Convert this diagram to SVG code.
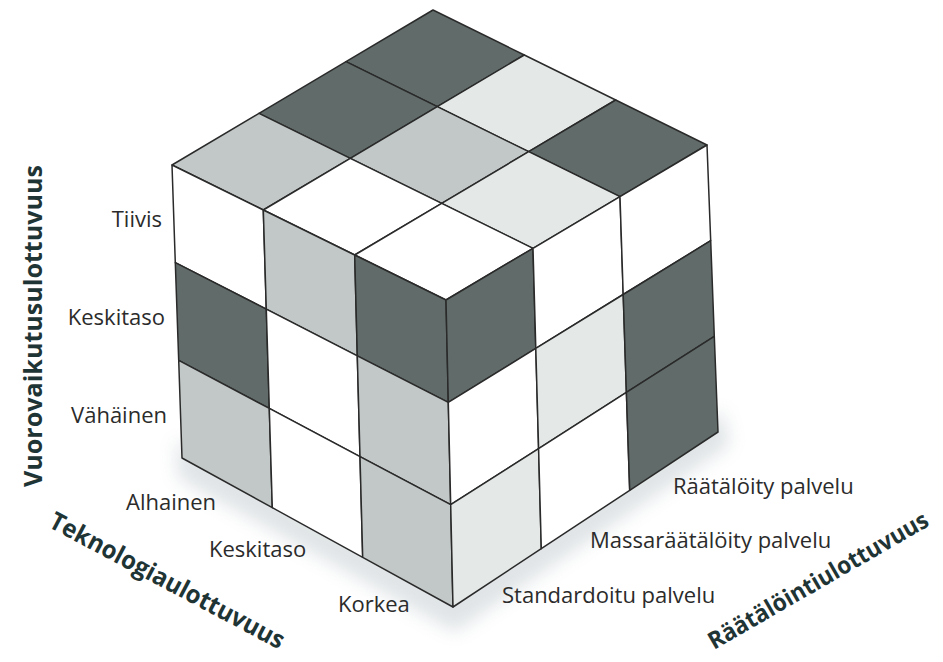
<svg xmlns="http://www.w3.org/2000/svg" width="943" height="662" viewBox="0 0 943 662">
  <defs>
    <style>
      .cell { stroke: #2a2a2a; stroke-width: 1.5; stroke-linejoin: round; }
      .dark { fill: #616c6a; }
      .light { fill: #c2c8c7; }
      .pale { fill: #e4e9e8; }
      .white { fill: #ffffff; }
      .lvl { font-family: "Open Sans", "Liberation Sans", sans-serif; font-size: 22px; fill: #2b2b2b; }
      .axis { font-family: "Open Sans", "Liberation Sans", sans-serif; font-size: 25px; font-weight: bold; fill: #1f3434; }
    </style>
    <filter id="soft" x="-20%" y="-20%" width="140%" height="140%">
      <feGaussianBlur stdDeviation="9"/>
    </filter>
  </defs>
  <rect width="943" height="662" fill="#ffffff"/>

  <g id="shadow" opacity="0.45">
    <polygon points="176,440 453,590 722,410 730,445 455,632 178,478" fill="#b9c3c8" filter="url(#soft)"/>
  </g>

  <g id="top-face">
    <polygon class="cell dark" points="433,10 524.3,55 437.3,106.7 346,61.7"/>
    <polygon class="cell pale" points="524.3,55 615.7,100 528.7,151.7 437.3,106.7"/>
    <polygon class="cell dark" points="615.7,100 707,145 620,196.7 528.7,151.7"/>
    <polygon class="cell dark" points="346,61.7 437.3,106.7 350.3,158.3 259,113.3"/>
    <polygon class="cell light" points="437.3,106.7 528.7,151.7 441.7,203.3 350.3,158.3"/>
    <polygon class="cell pale" points="528.7,151.7 620,196.7 533,248.3 441.7,203.3"/>
    <polygon class="cell light" points="259,113.3 350.3,158.3 263.3,210 172,165"/>
    <polygon class="cell white" points="350.3,158.3 441.7,203.3 354.7,255 263.3,210"/>
    <polygon class="cell white" points="441.7,203.3 533,248.3 446,300 354.7,255"/>
  </g>

  <g id="left-face">
    <polygon class="cell white" points="172,165 263.3,210 266.3,309.2 175.3,262.7"/>
    <polygon class="cell light" points="263.3,210 354.7,255 357.3,355.8 266.3,309.2"/>
    <polygon class="cell dark" points="354.7,255 446,300 448.3,402.3 357.3,355.8"/>
    <polygon class="cell dark" points="175.3,262.7 266.3,309.2 269.3,408.4 178.7,360.3"/>
    <polygon class="cell white" points="266.3,309.2 357.3,355.8 360,456.6 269.3,408.4"/>
    <polygon class="cell light" points="357.3,355.8 448.3,402.3 450.7,504.7 360,456.6"/>
    <polygon class="cell light" points="178.7,360.3 269.3,408.4 272.3,507.7 182,458"/>
    <polygon class="cell white" points="269.3,408.4 360,456.6 362.7,557.3 272.3,507.7"/>
    <polygon class="cell light" points="360,456.6 450.7,504.7 453,607 362.7,557.3"/>
  </g>

  <g id="right-face">
    <polygon class="cell dark" points="446,300 533,248.3 535.8,348.4 448.3,402.3"/>
    <polygon class="cell white" points="533,248.3 620,196.7 623.2,294.5 535.8,348.4"/>
    <polygon class="cell white" points="620,196.7 707,145 710.7,240.7 623.2,294.5"/>
    <polygon class="cell white" points="448.3,402.3 535.8,348.4 538.6,448.6 450.7,504.7"/>
    <polygon class="cell pale" points="535.8,348.4 623.2,294.5 626.4,392.4 538.6,448.6"/>
    <polygon class="cell dark" points="623.2,294.5 710.7,240.7 714.3,336.3 626.4,392.4"/>
    <polygon class="cell pale" points="450.7,504.7 538.6,448.6 541.3,548.7 453,607"/>
    <polygon class="cell white" points="538.6,448.6 626.4,392.4 629.7,490.3 541.3,548.7"/>
    <polygon class="cell dark" points="626.4,392.4 714.3,336.3 718,432 629.7,490.3"/>
  </g>

  <g id="connectors"></g>

  <g id="interaction-axis">
    <text class="axis" transform="translate(42,487) rotate(-90)" textLength="322" lengthAdjust="spacingAndGlyphs">Vuorovaikutusulottuvuus</text>
    <text class="lvl" x="162" y="227" text-anchor="end">Tiivis</text>
    <text class="lvl" x="165" y="325" text-anchor="end">Keskitaso</text>
    <text class="lvl" x="167" y="423" text-anchor="end">Vähäinen</text>
  </g>

  <g id="technology-axis">
    <text class="axis" transform="translate(47.6,526.6) rotate(28)" textLength="262" lengthAdjust="spacingAndGlyphs">Teknologiaulottuvuus</text>
    <text class="lvl" x="126" y="510">Alhainen</text>
    <text class="lvl" x="209" y="557">Keskitaso</text>
    <text class="lvl" x="338" y="612">Korkea</text>
  </g>

  <g id="customisation-axis">
    <text class="axis" transform="translate(714,650) rotate(-30)" style="font-size:24px" textLength="250" lengthAdjust="spacingAndGlyphs">Räätälöintiulottuvuus</text>
    <text class="lvl" x="502" y="603">Standardoitu palvelu</text>
    <text class="lvl" x="590" y="548">Massaräätälöity palvelu</text>
    <text class="lvl" x="673" y="494">Räätälöity palvelu</text>
  </g>
</svg>
